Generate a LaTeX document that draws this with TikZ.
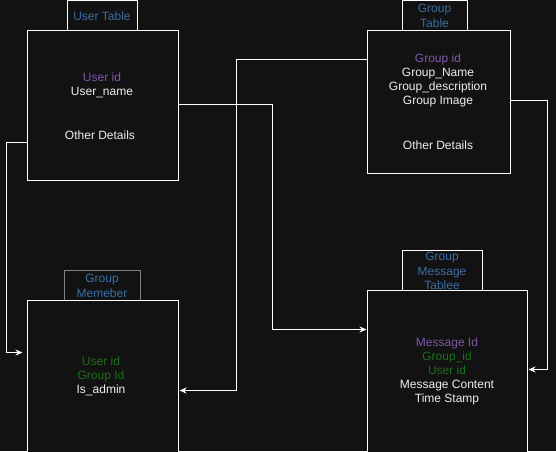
\documentclass[tikz,border=0pt]{standalone}
\usepackage{fontspec}
\setmainfont{Liberation Sans}
\usetikzlibrary{positioning,arrows.meta,calc}
\definecolor{bgdark}{HTML}{121212}
\definecolor{tblue}{HTML}{3D6DA6}
\definecolor{tpurple}{HTML}{7D58A8}
\definecolor{tgreen}{HTML}{1A701A}
\definecolor{tgray}{HTML}{EEEEEE}
\tikzset{
  tbl/.style={draw=white,fill=bgdark,line width=1pt,inner sep=0pt},
  tabbox/.style={draw=white,fill=bgdark,line width=1pt,inner sep=0pt},
  ttl/.style={text=tblue,align=center,font=\fontsize{12}{14.5}\selectfont},
  fld/.style={text=tgray,align=center,font=\fontsize{12}{14}\selectfont},
  link/.style={draw=white,line width=1pt,-{Stealth[length=7pt,width=6pt]}},
}
\begin{document}
\begin{tikzpicture}[x=1pt,y=-1pt]
  \fill[bgdark] (0,0) rectangle (556,451);
  \useasboundingbox (0,0) rectangle (556,451);
  % title tabs
  \node[tabbox,minimum width=70,minimum height=30] (usertab) at (102,15) {};
  \node[tabbox,minimum width=65,minimum height=30] (grouptab) at (434.5,15) {};
  \node[tabbox,draw=gray,minimum width=76,minimum height=30] (membertab) at (102,285) {};
  \node[tabbox,minimum width=80,minimum height=40] (msgtab) at (442,270) {};
  \node[ttl] (usertitle) at (102,16) {User Table};
  \node[ttl] (grouptitle) at (434.5,16) {Group\\Table};
  \node[ttl] (membertitle) at (102,286) {Group\\Memeber};
  \node[ttl] (msgtitle) at (442,271) {Group\\Message\\Tablee};
  % table boxes
  \node[tbl,minimum width=151,minimum height=150] (user) at (102.5,105) {};
  \node[tbl,minimum width=143,minimum height=143] (group) at (438.5,101.5) {};
  \node[tbl,minimum width=151,minimum height=160] (member) at (102.5,380) {};
  \node[tbl,minimum width=160,minimum height=170] (msg) at (447,375) {};
  % fields
  \node[fld] (userf) at (102,85) {\textcolor{tpurple}{User id}\\User\_name};
  \node[fld] (userx) at (100,135) {Other Details};
  \node[fld] (groupf) at (438,80.5) {\textcolor{tpurple}{Group id}\\Group\_Name\\Group\_description\\Group Image};
  \node[fld] (groupx) at (438,145) {Other Details};
  \node[fld] (memberf) at (101,376.5) {\textcolor{tgreen}{User id}\\\textcolor{tgreen}{Group Id}\\Is\_admin};
  \node[fld] (msgf) at (447,371) {\textcolor{tpurple}{Message Id}\\\textcolor{tgreen}{Group\_id}\\\textcolor{tgreen}{User id}\\Message Content\\Time Stamp};
  % relations
  \draw[link,shorten >=4pt] ($(user.north west)+(0,113)$) -- ++(-20,0) |- ($(member.north west)+(0,53)$);
  \draw[link] ($(user.north east)+(0,75)$) -- ++(94,0) |- ($(msg.north west)+(0,40)$);
  \draw[link,shorten >=1pt] ($(group.north west)+(0,30)$) -- ++(-130,0) |- ($(member.north east)+(0,91)$);
  \draw[link,shorten >=1pt] ($(group.north east)+(0,71)$) -- ++(37,0) |- ($(msg.north east)+(0,80)$);
\end{tikzpicture}
\end{document}
